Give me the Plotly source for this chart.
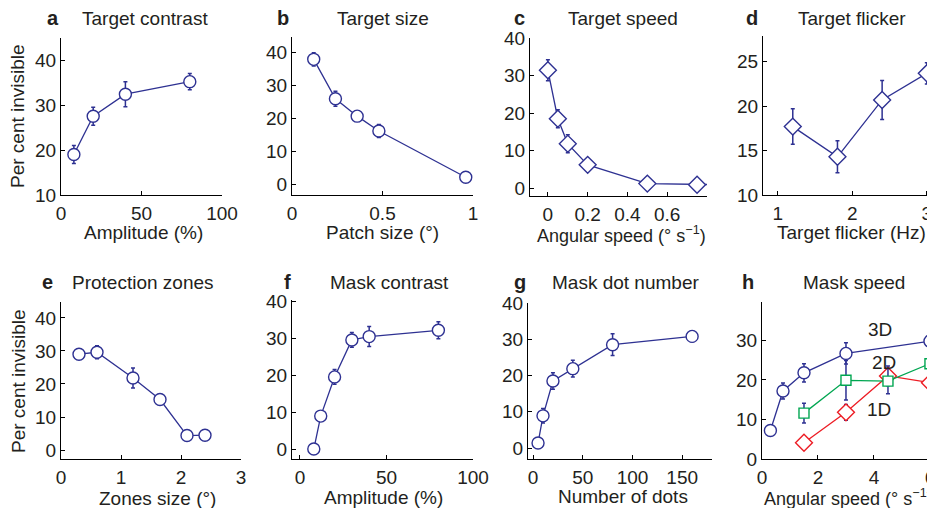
import plotly.graph_objects as go

# The page body has an 8px default margin; the figure is sized and positioned to compensate.
OFF = 8
W, H = 935 - OFF, 508 - OFF
BLUE = "#2e3192"
GREEN = "#00a651"
RED = "#ed1c24"
TXT = "#231f20"
FONT = "Liberation Sans"
FS = 19

# ---- data ----
a_x = [8, 20, 40, 80]
a_y = [19.0, 27.5, 32.4, 35.2]
a_e = [2.0, 2.0, 2.8, 1.8]

b_x = [0.12, 0.24, 0.36, 0.48, 0.96]
b_y = [38.0, 26.0, 20.7, 16.2, 2.1]
b_e = [2.0, 2.3, 1.0, 2.0, 0.4]

c_x = [0.0, 0.05, 0.1, 0.2, 0.5, 0.75, 1.0]
c_y = [31.4, 18.5, 11.8, 6.2, 1.2, 0.9, 0.8]
c_e = [2.8, 2.4, 2.4, 1.0, 0.5, 0.3, 0.3]

d_x = [1.2, 1.8, 2.4, 3.0]
d_y = [17.7, 14.3, 20.7, 23.7]
d_e = [2.0, 1.8, 2.2, 1.2]

e_x = [0.3, 0.6, 1.2, 1.65, 2.1, 2.4]
e_y = [29.0, 29.6, 21.8, 15.3, 4.4, 4.5]
e_e = [0.5, 2.0, 3.0, 0.5, 0.3, 0.3]

f_x = [8, 12, 20, 30, 40, 80]
f_y = [0.0, 8.9, 19.5, 29.5, 30.4, 32.1]
f_e = [0.3, 0.5, 2.0, 2.0, 2.7, 2.3]

g_x = [5, 10, 20, 40, 80, 160]
g_y = [1.4, 8.9, 18.5, 21.9, 28.5, 30.8]
g_e = [0.3, 2.0, 2.3, 2.3, 3.0, 1.5]

h3_x = [0.3, 0.75, 1.5, 3.0, 6.0]
h3_y = [7.2, 17.2, 21.8, 26.7, 29.8]
h3_e = [0.3, 2.0, 2.3, 2.7, 2.7]
h2_x = [1.5, 3.0, 4.5, 6.0]
h2_y = [11.6, 19.9, 19.7, 24.1]
h2_e = [2.5, 5.0, 3.2, 3.2]
h1_x = [1.5, 3.0, 4.5, 6.0]
h1_y = [4.1, 11.8, 21.0, 19.3]
h1_e = [0.3, 2.0, 2.5, 2.5]

panels = [
    ("a", "Target contrast", "Amplitude (%)", (61, 222), (38, 195), [0, 100], [10, 44.9], [0, 50, 100], None, [10, 20, 30, 40]),
    ("b", "Target size", "Patch size (°)", (292, 473), (37, 195), [0, 1], [-3.3, 44.8], [0, 0.5, 1], ["0", "0.5", "1"], [0, 10, 20, 30, 40]),
    ("c", "Target speed", "Angular speed (° s<sup>−1</sup>)", (530, 707), (38, 196), [-0.09, 0.80], [-2.1, 40], [0, 0.2, 0.4, 0.6], ["0", "0.2", "0.4", "0.6"], [0, 10, 20, 30, 40]),
    ("d", "Target flicker", "Target flicker (Hz)", (763, 935), (36, 195), [0.8, 3.11], [10, 27.9], [1, 2, 3], None, [10, 15, 20, 25]),
    ("e", "Protection zones", "Zones size (°)", (61, 241), (302, 459), [0, 3], [-2.7, 44.8], [0, 1, 2, 3], None, [0, 10, 20, 30, 40]),
    ("f", "Mask contrast", "Amplitude (%)", (292, 473), (300, 459), [-4.6, 100], [-2.7, 40.3], [0, 50, 100], None, [0, 10, 20, 30, 40]),
    ("g", "Mask dot number", "Number of dots", (528, 712), (303, 459), [-5.1, 180], [-3.0, 40], [0, 50, 100, 150], None, [0, 10, 20, 30, 40]),
    ("h", "Mask speed", "Angular speed (° s<sup>−1</sup>)", (762, 935), (302, 459), [0, 6.18], [0, 39.7], [0, 2, 4, 6], None, [0, 10, 20, 30, 40]),
]

letter_pos = [(53, 18), (283, 18), (520, 18), (752, 18), (47, 282), (287, 282), (520, 282), (748, 282)]
title_pos = [(145, 18), (383, 18), (623, 18), (852, 18), (143, 282), (389, 282), (625, 282), (854, 282)]
xtitle_pos = [(143, 233), (382, 233), (621, 235), (851, 233), (157, 498), (383, 497), (623, 496), (848, 497)]
xtitle_size = [FS, FS, 18, FS, FS, FS, FS, 18]

series = [
    [(a_x, a_y, a_e, "circle", BLUE, BLUE)],
    [(b_x, b_y, b_e, "circle", BLUE, BLUE)],
    [(c_x, c_y, c_e, "diamond", BLUE, BLUE)],
    [(d_x, d_y, d_e, "diamond", BLUE, BLUE)],
    [(e_x, e_y, e_e, "circle", BLUE, BLUE)],
    [(f_x, f_y, f_e, "circle", BLUE, BLUE)],
    [(g_x, g_y, g_e, "circle", BLUE, BLUE)],
    [(h1_x, h1_y, h1_e, "diamond", RED, BLUE),
     (h2_x, h2_y, h2_e, "square", GREEN, BLUE),
     (h3_x, h3_y, h3_e, "circle", BLUE, BLUE)],
]

fig = go.Figure()
layout = {}
annotations = []

def px_x(x):
    return (x - OFF) / W

def px_y(y):
    return 1 - (y - OFF) / H

for i, p in enumerate(panels):
    letter, title, xtitle, xd, yd, xr, yr, xt, xtl, yt = p
    n = i + 1
    xa = "xaxis" if n == 1 else f"xaxis{n}"
    ya = "yaxis" if n == 1 else f"yaxis{n}"
    xref = "x" if n == 1 else f"x{n}"
    yref = "y" if n == 1 else f"y{n}"
    common = dict(showgrid=False, zeroline=False, showline=True, linecolor="black",
                  linewidth=1, ticks="inside", ticklen=4, tickcolor="black",
                  tickfont=dict(family=FONT, size=FS, color=TXT), mirror=False,
                  automargin=False, ticklabeloverflow="allow")
    layout[xa] = dict(domain=[px_x(xd[0]), min(1.0, px_x(xd[1]))], range=xr, anchor=yref,
                      tickvals=xt, ticktext=xtl if xtl else [str(v) for v in xt],
                      ticklabelstandoff=1, **common)
    layout[ya] = dict(domain=[px_y(yd[1]), px_y(yd[0])], range=yr, anchor=xref,
                      tickvals=yt, ticktext=[str(v) for v in yt], **common)
    for (sx, sy, se, sym, col, ecol) in series[i]:
        size = 12 if sym == "circle" else (13 if sym == "diamond" else 10)
        fig.add_trace(go.Scatter(
            x=sx, y=sy, mode="lines+markers", xaxis=xref, yaxis=yref,
            line=dict(color=col, width=1.3),
            marker=dict(symbol=sym, size=size, color="white", line=dict(color=col, width=1.4)),
            error_y=dict(type="data", array=se, visible=True, color=ecol, thickness=1.5, width=2),
            cliponaxis=True, showlegend=False, hoverinfo="skip"))
    lx, ly = letter_pos[i]
    annotations.append(dict(text=f"<b>{letter}</b>", x=px_x(lx), y=px_y(ly), xref="paper", yref="paper",
                            showarrow=False, xanchor="center", yanchor="middle",
                            font=dict(family=FONT, size=20, color=TXT)))
    tx, ty = title_pos[i]
    annotations.append(dict(text=title, x=px_x(tx), y=px_y(ty), xref="paper", yref="paper",
                            showarrow=False, xanchor="center", yanchor="middle",
                            font=dict(family=FONT, size=FS, color=TXT)))
    ax_, ay_ = xtitle_pos[i]
    annotations.append(dict(text=xtitle, x=px_x(ax_), y=px_y(ay_), xref="paper", yref="paper",
                            showarrow=False, xanchor="center", yanchor="middle",
                            font=dict(family=FONT, size=xtitle_size[i], color=TXT)))

for (yx, yy) in [(18, 116), (18, 381)]:
    annotations.append(dict(text="Per cent invisible", x=px_x(yx), y=px_y(yy), xref="paper", yref="paper",
                            showarrow=False, textangle=-90, xanchor="center", yanchor="middle",
                            font=dict(family=FONT, size=FS, color=TXT)))

h_labels = ["3D", "2D", "1D"]
h_label_x = [4.2, 4.37, 4.18]
h_label_y = [32.7, 24.5, 12.5]
for t, lx, ly in zip(h_labels, h_label_x, h_label_y):
    annotations.append(dict(text=t, x=lx, y=ly, xref="x8", yref="y8", showarrow=False,
                            xanchor="center", yanchor="middle",
                            font=dict(family=FONT, size=FS, color=TXT)))

fig.update_layout(width=W, height=H, margin=dict(l=0, r=0, t=0, b=0, pad=0, autoexpand=False),
                  paper_bgcolor="white", plot_bgcolor="white",
                  annotations=annotations, **layout)

fig.write_html("out.html")
